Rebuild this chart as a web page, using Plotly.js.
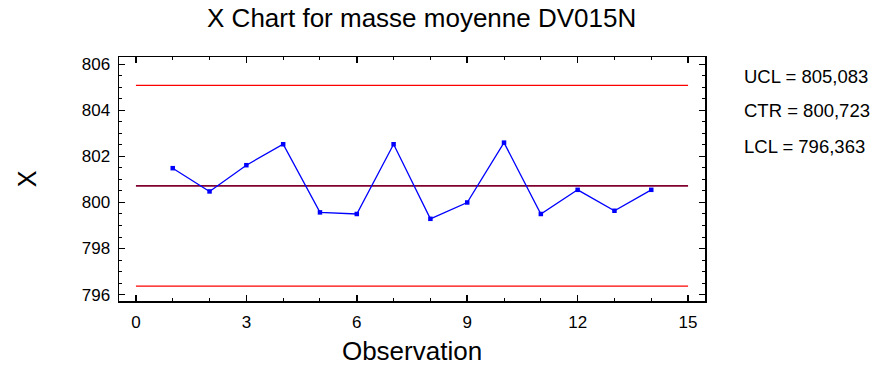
<!DOCTYPE html>
<html><head><meta charset="utf-8">
<script src="https://cdn.plot.ly/plotly-3.0.1.min.js"></script>
<style>body{margin:0;padding:0;background:#fff}</style>
</head><body>
<div id="chart" style="width:873px;height:373px"></div>
<script>
const observations = [1,2,3,4,5,6,7,8,9,10,11,12,13,14];
const xValues = [801.49,800.48,801.62,802.53,799.57,799.50,802.53,799.29,800.00,802.60,799.50,800.55,799.64,800.55];
const limitX = [0,15];
const UCL = 805.083, CTR = 800.723, LCL = 796.363;
const limitLabels = ["UCL = 805,083","CTR = 800,723","LCL = 796,363"];

const font = "Liberation Sans, Arial, sans-serif";
const traces = [
  {x: limitX, y: [UCL,UCL], mode:'lines', line:{color:'#ff0000', width:1.3}, hoverinfo:'skip'},
  {x: limitX, y: [LCL,LCL], mode:'lines', line:{color:'#ff0000', width:1.3}, hoverinfo:'skip'},
  {x: limitX, y: [CTR,CTR], mode:'lines', line:{color:'#800030', width:1.6}, hoverinfo:'skip'},
  {x: observations, y: xValues, mode:'lines+markers', line:{color:'#0000ff', width:1.3},
   marker:{symbol:'square', size:4.5, color:'#0000ff'}}
];
const axisCommon = {showgrid:false, zeroline:false, showline:true, linecolor:'#000', linewidth:1.5,
  mirror:'allticks', ticks:'inside', ticklen:6, tickwidth:1.5, tickcolor:'#000',
  tickfont:{family:font, size:17, color:'#000'}};
const layout = {
  width:873, height:373, showlegend:false,
  margin:{l:119, r:168, t:57, b:72},
  paper_bgcolor:'#fff', plot_bgcolor:'#fff',
  title:{text:'X Chart for masse moyenne DV015N', font:{family:font, size:26, color:'#000'}, x:0.483, xanchor:'center', y:0.952, yanchor:'middle'},
  xaxis: Object.assign({}, axisCommon, {range:[-0.46,15.46], tickvals:[0,3,6,9,12,15], ticklabelstandoff:5,
    minor:{dtick:1, tick0:0, ticks:'inside', ticklen:3, tickwidth:1, tickcolor:'#000'},
    title:{text:'Observation', font:{family:font, size:26, color:'#000'}, standoff:11}}),
  yaxis: Object.assign({}, axisCommon, {range:[795.72,806.32], tickvals:[796,798,800,802,804,806], ticklabelstandoff:4,
    minor:{dtick:0.5, tick0:796, ticks:'inside', ticklen:3, tickwidth:1, tickcolor:'#000'},
    title:{text:'X', font:{family:font, size:25, color:'#000'}, standoff:38}}),
  annotations: limitLabels.map((t,i)=>({text:t, xref:'paper', yref:'paper', x:1.063, y:[0.922,0.779,0.635][i],
    xanchor:'left', yanchor:'middle', showarrow:false, font:{family:font, size:18.5, color:'#000'}}))
};
Plotly.newPlot('chart', traces, layout, {displayModeBar:false, staticPlot:true});
</script>
</body></html>
